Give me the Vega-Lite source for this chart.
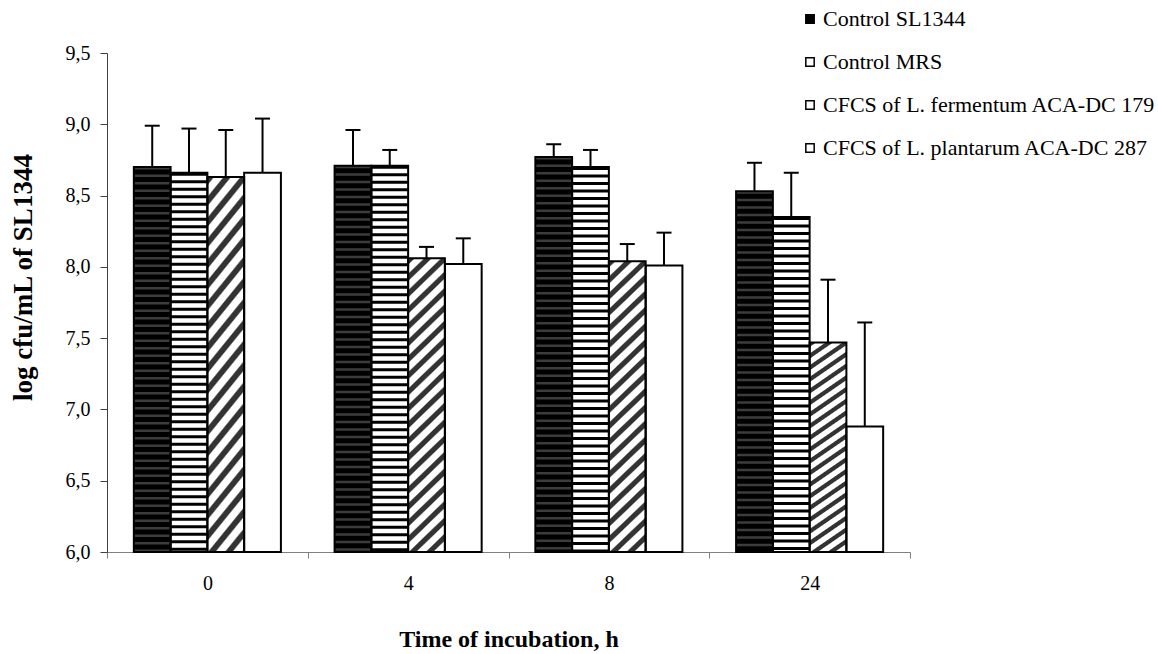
{
  "$schema": "https://vega.github.io/schema/vega-lite/v6.json",
  "width": 803,
  "height": 499,
  "autosize": {"type": "none"},
  "padding": {"left": 107, "top": 53, "right": 248, "bottom": 102},
  "background": "white",
  "data": {
    "values": [
      {"time": "0", "series": "Control SL1344", "value": 8.70, "hi": 8.99},
      {"time": "0", "series": "Control MRS", "value": 8.66, "hi": 8.97},
      {"time": "0", "series": "CFCS of L. fermentum ACA-DC 179", "value": 8.63, "hi": 8.96},
      {"time": "0", "series": "CFCS of L. plantarum ACA-DC 287", "value": 8.66, "hi": 9.04},
      {"time": "4", "series": "Control SL1344", "value": 8.71, "hi": 8.96},
      {"time": "4", "series": "Control MRS", "value": 8.71, "hi": 8.82},
      {"time": "4", "series": "CFCS of L. fermentum ACA-DC 179", "value": 8.06, "hi": 8.14},
      {"time": "4", "series": "CFCS of L. plantarum ACA-DC 287", "value": 8.02, "hi": 8.20},
      {"time": "8", "series": "Control SL1344", "value": 8.77, "hi": 8.86},
      {"time": "8", "series": "Control MRS", "value": 8.70, "hi": 8.82},
      {"time": "8", "series": "CFCS of L. fermentum ACA-DC 179", "value": 8.04, "hi": 8.16},
      {"time": "8", "series": "CFCS of L. plantarum ACA-DC 287", "value": 8.01, "hi": 8.24},
      {"time": "24", "series": "Control SL1344", "value": 8.53, "hi": 8.73},
      {"time": "24", "series": "Control MRS", "value": 8.35, "hi": 8.66},
      {"time": "24", "series": "CFCS of L. fermentum ACA-DC 179", "value": 7.47, "hi": 7.91},
      {"time": "24", "series": "CFCS of L. plantarum ACA-DC 287", "value": 6.88, "hi": 7.61}
    ]
  },
  "encoding": {
    "x": {
      "field": "time", "type": "nominal", "sort": ["0", "4", "8", "24"],
      "scale": {"paddingInner": 0, "paddingOuter": 0},
      "axis": {
        "title": "Time of incubation, h", "labelAngle": 0, "tickBand": "extent",
        "tickSize": 6, "labelPadding": 15, "domainColor": "#808080", "tickColor": "#808080",
        "titleBaseline": "alphabetic", "titleY": 94, "titleFontSize": 24
      }
    },
    "xOffset": {
      "field": "series", "type": "nominal",
      "sort": ["Control SL1344", "Control MRS", "CFCS of L. fermentum ACA-DC 179", "CFCS of L. plantarum ACA-DC 287"],
      "scale": {"paddingInner": 0, "paddingOuter": 0.73}
    }
  },
  "layer": [
    {
      "mark": {"type": "bar", "strokeWidth": 0},
      "encoding": {
        "y": {
          "field": "value", "type": "quantitative", "title": "log cfu/mL of SL1344",
          "scale": {"domain": [6, 9.5], "nice": false, "zero": false},
          "axis": {
            "values": [6, 6.5, 7, 7.5, 8, 8.5, 9, 9.5],
            "labelExpr": "replace(format(datum.value, '.1f'), '.', ',')",
            "tickSize": 7, "labelPadding": 10, "domainColor": "#404040", "tickColor": "#404040",
            "titleFontSize": 27, "titleX": -84, "titleY": 224, "titleBaseline": "middle", "titleAngle": 270
          }
        },
        "y2": {"datum": 6},
        "fill": {
          "field": "series", "type": "nominal",
          "sort": ["Control SL1344", "Control MRS", "CFCS of L. fermentum ACA-DC 179", "CFCS of L. plantarum ACA-DC 287"],
          "scale": {"range": ["#000000", "#ffffff", "#ffffff", "#ffffff"]},
          "legend": {
            "orient": "none", "legendX": 692, "legendY": -45, "title": null, "padding": 0,
            "symbolType": "square", "symbolSize": 70, "symbolStrokeColor": "black", "symbolStrokeWidth": 1.5,
            "labelFont": "Liberation Serif", "labelFontSize": 22, "labelColor": "black",
            "labelOffset": 2, "rowPadding": 21, "labelLimit": 400,
            "encode": {
              "symbols": {
                "update": {
                  "stroke": {"value": "#000000"},
                  "strokeWidth": {"value": 1.5},
                  "fill": [
                    {"test": "datum.index === 0", "value": {"gradient": "linear", "x1": 0, "y1": 0, "x2": 0, "y2": 1, "stops": [
                      {"offset": 0, "color": "#000000"}, {"offset": 0.38, "color": "#000000"}, {"offset": 0.42, "color": "#666666"}, {"offset": 0.58, "color": "#666666"}, {"offset": 0.62, "color": "#000000"}, {"offset": 1, "color": "#000000"}]}},
                    {"test": "datum.index === 1", "value": {"gradient": "linear", "x1": 0, "y1": 0, "x2": 0, "y2": 1, "stops": [
                      {"offset": 0, "color": "#ffffff"}, {"offset": 0.36, "color": "#ffffff"}, {"offset": 0.4, "color": "#000000"}, {"offset": 0.6, "color": "#000000"}, {"offset": 0.64, "color": "#ffffff"}, {"offset": 1, "color": "#ffffff"}]}},
                    {"test": "datum.index === 2", "value": {"gradient": "linear", "x1": 1, "y1": 0, "x2": 0, "y2": 1, "stops": [
                      {"offset": 0, "color": "#ffffff"}, {"offset": 0.45, "color": "#ffffff"}, {"offset": 0.55, "color": "#333333"}, {"offset": 1, "color": "#333333"}]}},
                    {"value": "#ffffff"}
                  ]
                }
              }
            }
          }
        }
      }
    },
    {
      "transform": [{"filter": "datum.series === 'CFCS of L. fermentum ACA-DC 179'"}],
      "mark": {"type": "bar", "strokeWidth": 0, "fill": {"gradient": "linear", "x1": 0, "y1": 0, "x2": 0.133, "y2": 1.1, "stops": [
        {"offset": 0, "color": "#333333"}, {"offset": 0.017, "color": "#333333"}, {"offset": 0.022, "color": "#ffffff"}, {"offset": 0.045, "color": "#ffffff"},
        {"offset": 0.05, "color": "#333333"}, {"offset": 0.067, "color": "#333333"}, {"offset": 0.072, "color": "#ffffff"}, {"offset": 0.095, "color": "#ffffff"},
        {"offset": 0.1, "color": "#333333"}, {"offset": 0.117, "color": "#333333"}, {"offset": 0.122, "color": "#ffffff"}, {"offset": 0.145, "color": "#ffffff"},
        {"offset": 0.15, "color": "#333333"}, {"offset": 0.167, "color": "#333333"}, {"offset": 0.172, "color": "#ffffff"}, {"offset": 0.195, "color": "#ffffff"},
        {"offset": 0.2, "color": "#333333"}, {"offset": 0.217, "color": "#333333"}, {"offset": 0.222, "color": "#ffffff"}, {"offset": 0.245, "color": "#ffffff"},
        {"offset": 0.25, "color": "#333333"}, {"offset": 0.267, "color": "#333333"}, {"offset": 0.272, "color": "#ffffff"}, {"offset": 0.295, "color": "#ffffff"},
        {"offset": 0.3, "color": "#333333"}, {"offset": 0.317, "color": "#333333"}, {"offset": 0.322, "color": "#ffffff"}, {"offset": 0.345, "color": "#ffffff"},
        {"offset": 0.35, "color": "#333333"}, {"offset": 0.367, "color": "#333333"}, {"offset": 0.372, "color": "#ffffff"}, {"offset": 0.395, "color": "#ffffff"},
        {"offset": 0.4, "color": "#333333"}, {"offset": 0.417, "color": "#333333"}, {"offset": 0.422, "color": "#ffffff"}, {"offset": 0.445, "color": "#ffffff"},
        {"offset": 0.45, "color": "#333333"}, {"offset": 0.467, "color": "#333333"}, {"offset": 0.472, "color": "#ffffff"}, {"offset": 0.495, "color": "#ffffff"},
        {"offset": 0.5, "color": "#333333"}, {"offset": 0.517, "color": "#333333"}, {"offset": 0.522, "color": "#ffffff"}, {"offset": 0.545, "color": "#ffffff"},
        {"offset": 0.55, "color": "#333333"}, {"offset": 0.567, "color": "#333333"}, {"offset": 0.572, "color": "#ffffff"}, {"offset": 0.595, "color": "#ffffff"},
        {"offset": 0.6, "color": "#333333"}, {"offset": 0.617, "color": "#333333"}, {"offset": 0.622, "color": "#ffffff"}, {"offset": 0.645, "color": "#ffffff"},
        {"offset": 0.65, "color": "#333333"}, {"offset": 0.667, "color": "#333333"}, {"offset": 0.672, "color": "#ffffff"}, {"offset": 0.695, "color": "#ffffff"},
        {"offset": 0.7, "color": "#333333"}, {"offset": 0.717, "color": "#333333"}, {"offset": 0.722, "color": "#ffffff"}, {"offset": 0.745, "color": "#ffffff"},
        {"offset": 0.75, "color": "#333333"}, {"offset": 0.767, "color": "#333333"}, {"offset": 0.772, "color": "#ffffff"}, {"offset": 0.795, "color": "#ffffff"},
        {"offset": 0.8, "color": "#333333"}, {"offset": 0.817, "color": "#333333"}, {"offset": 0.822, "color": "#ffffff"}, {"offset": 0.845, "color": "#ffffff"},
        {"offset": 0.85, "color": "#333333"}, {"offset": 0.867, "color": "#333333"}, {"offset": 0.872, "color": "#ffffff"}, {"offset": 0.895, "color": "#ffffff"},
        {"offset": 0.9, "color": "#333333"}, {"offset": 0.917, "color": "#333333"}, {"offset": 0.922, "color": "#ffffff"}, {"offset": 0.945, "color": "#ffffff"},
        {"offset": 0.95, "color": "#333333"}, {"offset": 0.967, "color": "#333333"}, {"offset": 0.972, "color": "#ffffff"}, {"offset": 0.995, "color": "#ffffff"},
        {"offset": 1, "color": "#333333"}
      ]}},
      "encoding": {
        "y": {"field": "value", "type": "quantitative", "title": "log cfu/mL of SL1344"},
        "y2": {"datum": 6}
      }
    },
    {
      "transform": [{"filter": "datum.series === 'Control SL1344'"}],
      "mark": {"type": "rule", "stroke": "#3c3c3c", "strokeWidth": 36, "strokeDash": [2.5, 5], "strokeCap": "butt"},
      "encoding": {
        "y": {"field": "value", "type": "quantitative", "title": "log cfu/mL of SL1344"},
        "y2": {"datum": 6}
      }
    },
    {
      "transform": [{"filter": "datum.series === 'Control MRS'"}],
      "mark": {"type": "rule", "stroke": "#000000", "strokeWidth": 36, "strokeDash": [3, 4.5], "strokeCap": "butt"},
      "encoding": {
        "y": {"field": "value", "type": "quantitative", "title": "log cfu/mL of SL1344"},
        "y2": {"datum": 6}
      }
    },
    {
      "mark": {"type": "bar", "fill": "transparent", "stroke": "#000000", "strokeWidth": 2},
      "encoding": {
        "y": {"field": "value", "type": "quantitative", "title": "log cfu/mL of SL1344"},
        "y2": {"datum": 6}
      }
    },
    {
      "mark": {"type": "rule", "stroke": "#000000", "strokeWidth": 2},
      "encoding": {
        "y": {"field": "value", "type": "quantitative", "title": "log cfu/mL of SL1344"},
        "y2": {"field": "hi"}
      }
    },
    {
      "mark": {"type": "tick", "color": "#000000", "size": 15, "thickness": 2, "opacity": 1},
      "encoding": {
        "y": {"field": "hi", "type": "quantitative", "title": "log cfu/mL of SL1344"}
      }
    }
  ],
  "config": {
    "view": {"stroke": null},
    "axis": {
      "grid": false,
      "labelFont": "Liberation Serif", "labelFontSize": 20, "labelColor": "#000000",
      "titleFont": "Liberation Serif", "titleFontWeight": "bold", "titleColor": "#000000"
    }
  }
}
